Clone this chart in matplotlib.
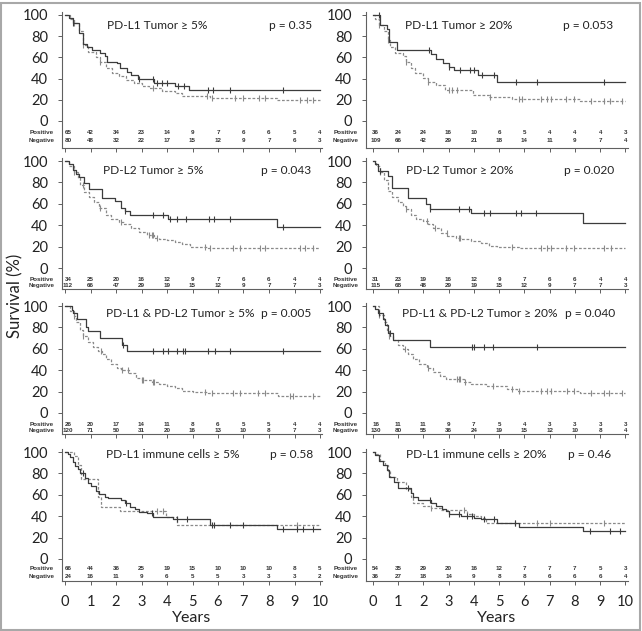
import numpy as np
import matplotlib
matplotlib.use("Agg")
from matplotlib import pyplot as plt
from matplotlib.patches import Rectangle

plt.rcParams['font.family'] = ['Liberation Sans Narrow', 'Lato', 'DejaVu Sans']

years = list(range(11))

# ---- panel titles / p values ----
titles = ["PD-L1 Tumor \u2265 5%", "PD-L1 Tumor \u2265 20%",
          "PD-L2 Tumor \u2265 5%", "PD-L2 Tumor \u2265 20%",
          "PD-L1 & PD-L2 Tumor \u2265 5%", "PD-L1 & PD-L2 Tumor \u2265 20%",
          "PD-L1 immune cells \u2265 5%", "PD-L1 immune cells \u2265 20%"]
pvals = ["p = 0.35", "p = 0.053", "p = 0.043", "p = 0.020",
         "p = 0.005", "p = 0.040", "p = 0.58", "p = 0.46"]

# ---- numbers at risk ----
risk_pos = [[65, 42, 34, 23, 14, 9, 7, 6, 6, 5, 4],
            [36, 24, 24, 16, 10, 6, 5, 4, 4, 4, 3],
            [34, 25, 20, 16, 12, 9, 7, 6, 6, 4, 4],
            [31, 23, 19, 16, 12, 9, 7, 6, 6, 4, 4],
            [26, 20, 17, 14, 11, 8, 6, 5, 5, 4, 4],
            [16, 11, 11, 9, 7, 5, 4, 3, 3, 3, 3],
            [66, 44, 36, 25, 19, 15, 10, 10, 10, 8, 5],
            [54, 35, 29, 20, 16, 12, 7, 7, 7, 5, 3]]
risk_neg = [[80, 48, 32, 22, 17, 15, 12, 9, 7, 6, 3],
            [109, 66, 42, 29, 21, 18, 14, 11, 9, 7, 4],
            [112, 66, 47, 29, 19, 15, 12, 9, 7, 7, 3],
            [115, 68, 48, 29, 19, 15, 12, 9, 7, 7, 3],
            [120, 71, 50, 31, 20, 16, 13, 10, 8, 7, 3],
            [130, 80, 55, 36, 24, 19, 15, 12, 10, 8, 4],
            [24, 16, 11, 9, 6, 5, 5, 3, 3, 3, 2],
            [36, 27, 18, 14, 9, 8, 8, 6, 6, 6, 4]]

# ---- survival curves: event times, survival (%) after event, censor times ----
p1_pos_t = [0, 0.15, 0.3, 0.55, 0.72, 0.85, 1.05, 1.37, 1.57, 1.63, 2.03, 2.16, 2.42, 2.6, 2.88, 3.5, 4.3, 4.85]
p1_pos_s = [100, 97, 92, 83, 73, 70, 67, 64, 61, 56, 54.5, 50, 46.5, 43, 39.5, 36, 33, 29.5]
p1_pos_c = [0.3, 2.9, 3.46, 3.6, 3.8, 4.0, 4.45, 4.65, 5.62, 5.82, 6.47, 8.56]
p1_neg_t = [0, 0.2, 0.35, 0.55, 0.72, 0.9, 1.2, 1.37, 1.6, 1.85, 2.1, 2.4, 2.7, 3.0, 3.3, 3.8, 4.3, 4.6, 5.7, 8.3]
p1_neg_s = [100, 96, 92, 85, 72, 65, 60, 56, 50, 45, 42, 39, 36, 33, 31, 28, 26, 24, 22, 19.5]
p1_neg_c = [0.35, 0.72, 1.37, 3.45, 5.55, 5.75, 6.67, 7.0, 7.6, 7.85, 9.2, 9.48, 9.74]

p2_pos_t = [0, 0.3, 0.55, 0.65, 0.95, 2.3, 2.5, 2.8, 3.0, 3.2, 4.15, 4.9]
p2_pos_s = [100, 90.5, 86.5, 75, 67, 63.5, 58.5, 55, 51, 48, 43.5, 37]
p2_pos_c = [0.26, 2.22, 3.02, 3.47, 3.86, 4.0, 4.33, 4.8, 5.65, 6.5, 9.15]
p2_neg_t = [0, 0.1, 0.25, 0.45, 0.6, 0.7, 0.9, 1.2, 1.32, 1.5, 1.68, 2.0, 2.2, 2.5, 2.85, 3.95, 4.6, 5.5, 8.2]
p2_neg_s = [100, 96, 91, 85, 76, 70, 64, 61, 56, 50, 45, 41, 37, 34, 29.5, 25, 23, 21, 18.5]
p2_neg_c = [0.26, 0.62, 1.32, 2.2, 3.0, 3.13, 3.33, 4.65, 5.78, 5.9, 6.64, 6.9, 7.04, 7.63, 7.96, 8.62, 9.15, 9.4, 9.88]

p3_pos_t = [0, 0.15, 0.3, 0.45, 0.55, 0.75, 0.95, 1.44, 1.96, 2.2, 2.35, 2.55, 4.05, 8.3]
p3_pos_s = [100, 97.5, 91.5, 88, 85, 79, 74, 65, 62.5, 56, 53, 50, 46, 38.5]
p3_pos_c = [2.37, 3.44, 3.86, 4.1, 4.38, 4.75, 5.66, 5.86, 6.47, 8.54]
p3_neg_t = [0, 0.15, 0.35, 0.5, 0.6, 0.75, 0.95, 1.15, 1.35, 1.6, 1.8, 2.1, 2.3, 2.6, 2.9, 3.2, 3.5, 3.7, 4.0, 4.3, 4.6, 4.9, 5.6]
p3_neg_s = [100, 95, 90, 84, 78, 71, 66, 62, 56, 50, 46, 43, 41, 37, 34, 31, 28.5, 27, 26, 24, 22, 20, 19]
p3_neg_c = [0.35, 0.72, 1.37, 2.2, 3.3, 3.4, 3.46, 3.6, 5.5, 5.7, 6.6, 6.86, 7.65, 7.84, 9.2, 9.4, 9.74]

p4_pos_t = [0, 0.1, 0.2, 0.62, 0.75, 1.38, 2.12, 2.25, 3.88, 8.33]
p4_pos_s = [100, 97.5, 91, 86, 74.5, 65, 60, 55, 51.5, 42.5]
p4_pos_c = [0.27, 2.28, 3.4, 3.8, 4.39, 4.65, 5.65, 5.85, 6.44]
p4_neg_t = [0, 0.15, 0.3, 0.45, 0.6, 0.75, 1.0, 1.2, 1.3, 1.5, 1.7, 2.0, 2.2, 2.4, 2.7, 2.95, 3.3, 3.5, 3.9, 4.3, 4.6, 4.9, 5.8]
p4_neg_s = [100, 95, 90, 82, 72, 66, 62, 58, 55, 50, 46, 44, 41, 37, 33, 30, 28.5, 27, 25, 23, 21, 20, 18.5]
p4_neg_c = [0.3, 1.32, 2.14, 2.47, 2.94, 3.4, 3.47, 5.5, 6.64, 6.9, 7.04, 7.63, 7.96, 9.13, 9.42]

p5_pos_t = [0, 0.26, 0.3, 0.46, 0.82, 0.9, 1.37, 2.22, 2.42]
p5_pos_s = [100, 96, 93, 88, 80.5, 77, 70, 63.5, 57.5]
p5_pos_c = [2.29, 3.44, 3.86, 4.05, 4.38, 4.64, 4.7, 5.62, 5.88, 6.47, 8.56]
p5_neg_t = [0, 0.2, 0.35, 0.45, 0.6, 0.72, 0.9, 1.1, 1.3, 1.45, 1.6, 1.8, 2.05, 2.2, 2.5, 2.8, 3.0, 3.4, 3.7, 4.0, 4.3, 4.6, 5.0, 5.6, 8.37]
p5_neg_s = [100, 95, 91, 85, 78, 72, 66, 62, 58, 55, 50, 46, 42, 40.5, 37, 33, 30.5, 29, 27, 25, 23, 21, 20, 18.6, 16.3]
p5_neg_c = [0.35, 0.72, 1.4, 2.25, 2.48, 3.0, 3.07, 3.44, 3.5, 5.5, 5.75, 6.6, 6.86, 7.58, 7.84, 8.82, 8.95, 9.74]

p6_pos_t = [0, 0.1, 0.2, 0.4, 0.5, 0.62, 0.8, 2.27]
p6_pos_s = [100, 97, 93, 88, 82, 75, 68, 62]
p6_pos_c = [0.26, 0.69, 3.93, 4.02, 4.39, 4.76, 6.5]
p6_neg_t = [0, 0.25, 0.45, 0.55, 0.65, 0.8, 1.0, 1.2, 1.4, 1.6, 1.85, 2.15, 2.4, 2.65, 2.9, 3.6, 3.9, 4.5, 5.3, 5.7, 8.2]
p6_neg_s = [100, 92, 85, 78, 72, 68, 64, 60, 55, 50, 46, 42, 38, 35, 32, 29, 27, 25, 22, 21, 19]
p6_neg_c = [0.26, 0.66, 1.28, 2.2, 3.33, 3.4, 3.47, 3.65, 4.75, 5.5, 5.78, 6.64, 6.9, 7.04, 7.7, 7.96, 8.62, 9.15, 9.35, 9.88]

p7_pos_t = [0, 0.1, 0.2, 0.3, 0.4, 0.5, 0.6, 0.8, 0.9, 1.0, 1.2, 1.35, 1.55, 1.7, 2.2, 2.35, 2.55, 2.75, 2.9, 3.2, 3.45, 4.25, 5.7, 8.3]
p7_pos_s = [100, 98, 95, 91, 87, 84, 80, 76, 71, 68, 64, 61, 58, 57, 55, 52, 49, 46.5, 44, 43, 39.5, 37.5, 31.5, 28.5]
p7_pos_c = [0.72, 2.38, 3.4, 4.38, 4.77, 5.75, 5.85, 6.47, 7.0, 8.56, 9.08, 9.35, 9.74]
p7_neg_t = [0, 0.35, 0.5, 0.62, 1.3, 1.42, 2.16, 3.95, 4.38]
p7_neg_s = [100, 96, 88, 75, 58, 49, 44.5, 39.5, 32]
p7_neg_c = [3.6, 3.86, 9.08]

p8_pos_t = [0, 0.1, 0.25, 0.4, 0.55, 0.65, 0.85, 1.0, 1.5, 1.6, 1.8, 2.3, 2.5, 2.75, 2.9, 3.0, 3.5, 4.0, 4.3, 4.9, 5.8, 8.32]
p8_pos_s = [100, 97, 92, 88, 83, 77, 72, 66.5, 61.5, 58, 55, 52, 49.5, 47, 45, 42.5, 40, 38.5, 37, 34, 30, 26]
p8_pos_c = [1.4, 2.27, 3.02, 3.4, 3.73, 3.92, 4.39, 4.78, 5.64, 8.59, 9.4, 9.8]
p8_neg_t = [0, 0.15, 0.3, 0.5, 0.6, 0.7, 0.95, 1.3, 1.5, 1.6, 2.0, 2.3, 2.7, 3.75, 4.0, 4.3, 4.5]
p8_neg_s = [100, 98, 92, 88, 82, 77, 72, 65, 58, 52, 50, 48, 46, 42, 40, 38, 34]
p8_neg_c = [2.3, 3.6, 5.64, 6.5, 7.03, 9.14]

pos_curves = [(p1_pos_t, p1_pos_s, p1_pos_c), (p2_pos_t, p2_pos_s, p2_pos_c),
              (p3_pos_t, p3_pos_s, p3_pos_c), (p4_pos_t, p4_pos_s, p4_pos_c),
              (p5_pos_t, p5_pos_s, p5_pos_c), (p6_pos_t, p6_pos_s, p6_pos_c),
              (p7_pos_t, p7_pos_s, p7_pos_c), (p8_pos_t, p8_pos_s, p8_pos_c)]
neg_curves = [(p1_neg_t, p1_neg_s, p1_neg_c), (p2_neg_t, p2_neg_s, p2_neg_c),
              (p3_neg_t, p3_neg_s, p3_neg_c), (p4_neg_t, p4_neg_s, p4_neg_c),
              (p5_neg_t, p5_neg_s, p5_neg_c), (p6_neg_t, p6_neg_s, p6_neg_c),
              (p7_neg_t, p7_neg_s, p7_neg_c), (p8_neg_t, p8_neg_s, p8_neg_c)]

# ---- layout (pixels) ----
W, H = 642, 631
row_p100 = [15, 161, 306, 452]
row_p0 = [121, 268, 413, 559]
row_ybot = [-25, -20, -20, -21]
row_pos_y = [-10.5, -10.5, -10.5, -9]
row_neg_y = [-18, -16.3, -16.5, -16.5]
col_x0 = [65, 372.7]
col_x10 = [320, 625.5]
col_spine = [62, 366]
col_right = [322, 628]
title_x = [1.63, 1.28, 1.48, 1.32, 1.6, 1.15, 1.6, 1.32]
title_y = [90.5, 90.5, 91.5, 91.5, 93, 93, 98, 98]
p_x = [9.7, 9.5, 9.67, 9.55, 9.67, 9.58, 9.74, 9.45]
# widths (px) of the titles in the reference, used to pick one font size
title_w = [97, 107, 97, 106, 114, 132, 134, 142]

pos_col = "#3c3c3c"
neg_col = "#8a8a8a"
axis_col = "#606060"
txt_col = "#222222"

fig = plt.figure(figsize=(W / 100, H / 100), dpi=100)


def draw_curve(ax, t, s, c, color, ls):
    t = list(t) + [10.0]
    s = list(s) + [s[-1]]
    ax.step(t, s, where="post", color=color, lw=0.9, ls=ls)
    idx = np.searchsorted(t, c, side="right") - 1
    cy = np.array(s)[idx]
    ax.plot(c, cy, ls="none", marker="|", ms=5, mew=0.8, color=color)


title_txts = []
p_txts = []
for i in range(8):
    r, c = divmod(i, 2)
    ppu = (row_p0[r] - row_p100[r]) / 100.0
    ppy = (col_x10[c] - col_x0[c]) / 10.0
    top_px = row_p100[r] - 3 * ppu
    bot_px = row_p0[r] - row_ybot[r] * ppu
    ax = fig.add_axes([col_spine[c] / W, 1 - bot_px / H,
                       (col_right[c] - col_spine[c]) / W,
                       (bot_px - top_px) / H])
    ax.set_xlim((col_spine[c] - col_x0[c]) / ppy, (col_right[c] - col_x0[c]) / ppy)
    ax.set_ylim(row_ybot[r], 103)
    ax.patch.set_alpha(0)

    draw_curve(ax, *neg_curves[i], neg_col, (0, (2.2, 1.4)))
    draw_curve(ax, *pos_curves[i], pos_col, "-")

    for sp in ["top", "right"]:
        ax.spines[sp].set_visible(False)
    for sp in ["left", "bottom"]:
        ax.spines[sp].set_color(axis_col)
        ax.spines[sp].set_linewidth(0.8)
    ax.set_yticks([0, 20, 40, 60, 80, 100])
    ax.set_xticks(years)
    ax.tick_params(axis="both", direction="out", length=3, width=0.7,
                   color=axis_col, labelsize=10.5, labelcolor=txt_col, pad=7)
    if r < 3:
        ax.set_xticklabels([])
    else:
        ax.set_xlabel("Years", fontsize=11.5, color=txt_col, labelpad=1)

    title_txts.append(ax.text(title_x[i], title_y[i], titles[i], fontsize=9,
                              color=txt_col, ha="left", va="center"))
    p_txts.append(ax.text(p_x[i], title_y[i], pvals[i], fontsize=9,
                          color=txt_col, ha="right", va="center"))

    # numbers at risk
    for k, yr in enumerate(years):
        xx = yr if yr > 0 else 0.12
        ax.text(xx, row_pos_y[r], str(risk_pos[i][k]), fontsize=4.5,
                family="Liberation Sans", weight="bold", ha="center",
                va="center", color="#333333")
        ax.text(xx, row_neg_y[r], str(risk_neg[i][k]), fontsize=4.5,
                family="Liberation Sans", weight="bold", ha="center",
                va="center", color="#333333")
    ax.text(-0.03, row_pos_y[r], "Positive", transform=ax.get_yaxis_transform(),
            fontsize=4.5, family="Liberation Sans", weight="bold", ha="right",
            va="center", color="#333333")
    ax.text(-0.03, row_neg_y[r], "Negative", transform=ax.get_yaxis_transform(),
            fontsize=4.5, family="Liberation Sans", weight="bold", ha="right",
            va="center", color="#333333")

# one common title size so that the titles take about the reference widths
renderer = fig.canvas.get_renderer()
got = sum(t.get_window_extent(renderer).width for t in title_txts)
title_size = 1.07 * 9 * sum(title_w) / got
for t in title_txts + p_txts:
    t.set_fontsize(title_size)

fig.text(15 / W, 1 - 296 / H, "Survival (%)", rotation=90, fontsize=12,
         color=txt_col, ha="center", va="center")

fig.patches.append(Rectangle((1.5 / W, 1.5 / H), (W - 4) / W, (H - 4) / H,
                             transform=fig.transFigure, fill=False,
                             edgecolor="#a8a8a8", lw=1.5))

fig.savefig("out.png", dpi=100)
